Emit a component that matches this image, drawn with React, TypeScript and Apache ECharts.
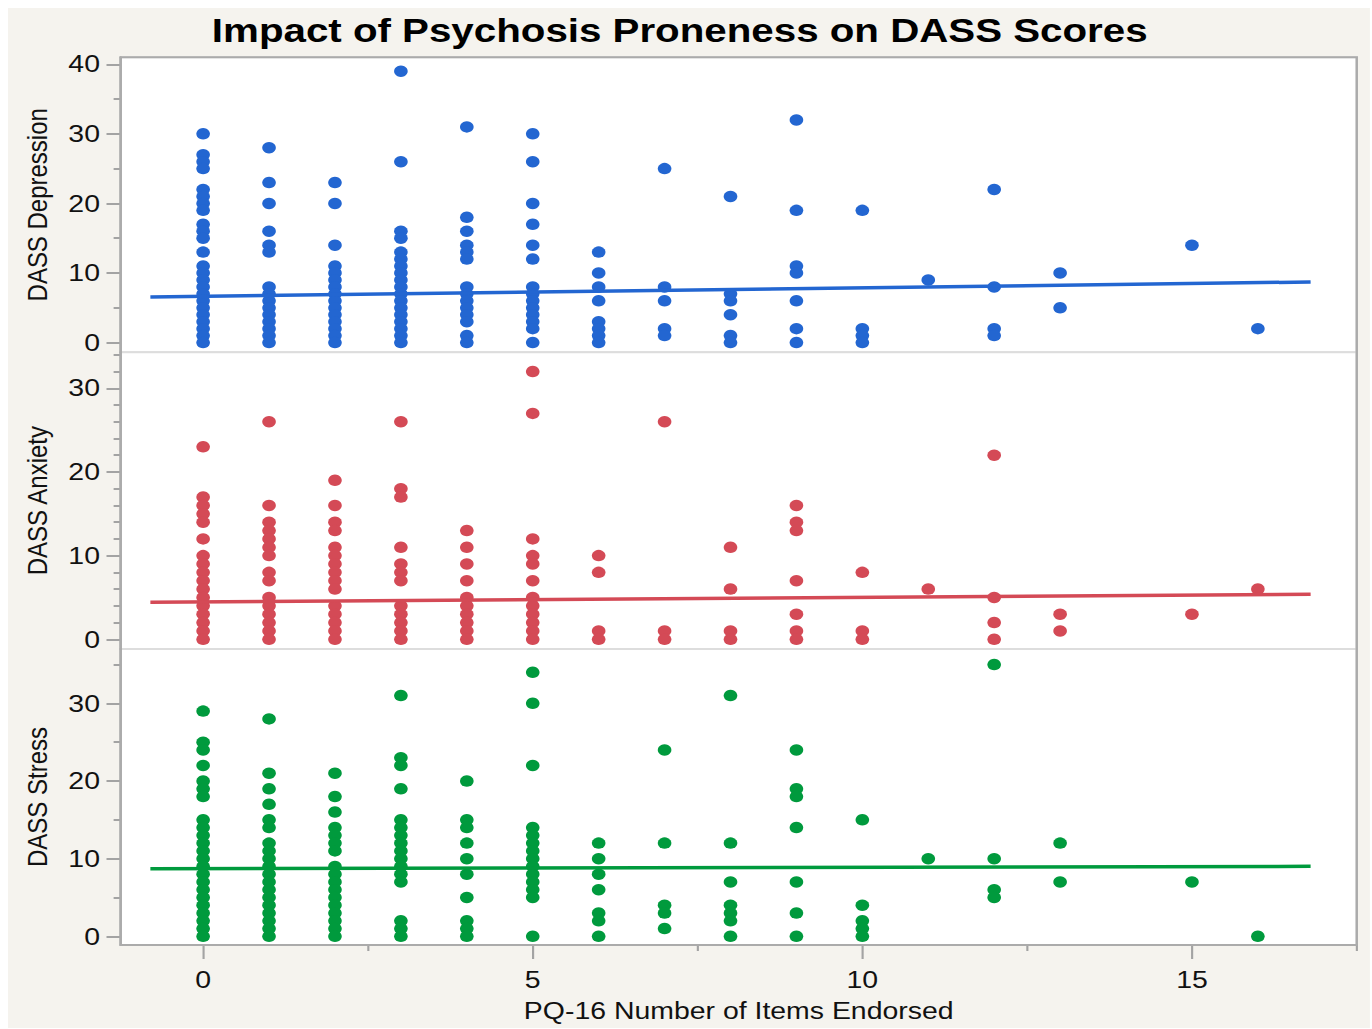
import React, { useEffect, useRef } from "react";
import * as echarts from "echarts";

const TITLE = "Impact of Psychosis Proneness on DASS Scores";
const X_NAME = "PQ-16 Number of Items Endorsed";
const Y_NAMES = ["DASS Depression", "DASS Anxiety", "DASS Stress"];

const xMajorTicks = [0, 5, 10, 15];
const xMinorTicks = [2.5, 7.5, 12.5, 17.5];
const depMajorTicks = [0, 10, 20, 30, 40];
const depMinorTicks = [5, 15, 25, 35];
const anxMajorTicks = [0, 10, 20, 30];
const anxMinorTicks = [2, 4, 6, 8, 12, 14, 16, 18, 22, 24, 26, 28, 32, 34];
const strMajorTicks = [0, 10, 20, 30];
const strMinorTicks = [5, 15, 25, 35];

// index of each row = number of PQ-16 items endorsed (0..16)
const depression: number[][] = [
  [30, 27, 26, 25, 22, 21, 20, 19, 17, 16, 15, 13, 11, 10, 9, 8, 7, 6, 5, 4, 3, 2, 1, 0],
  [28, 23, 20, 16, 14, 13, 8, 7, 6, 5, 4, 3, 2, 1, 0],
  [23, 20, 14, 11, 10, 9, 8, 7, 6, 5, 4, 3, 2, 1, 0],
  [39, 26, 16, 15, 13, 12, 11, 10, 9, 8, 7, 6, 5, 4, 3, 2, 1, 0],
  [31, 18, 16, 14, 13, 12, 8, 7, 6, 5, 4, 3, 1, 0],
  [30, 26, 20, 17, 14, 12, 8, 7, 6, 5, 4, 3, 2, 0],
  [13, 10, 8, 6, 3, 2, 1, 0],
  [25, 8, 6, 2, 1],
  [21, 7, 6, 4, 1, 0],
  [32, 19, 11, 10, 6, 2, 0],
  [19, 2, 1, 0],
  [9],
  [22, 8, 2, 1],
  [10, 5],
  [],
  [14],
  [2],
];

const anxiety: number[][] = [
  [23, 17, 16, 15, 14, 12, 10, 9, 8, 7, 6, 5, 4, 3, 2, 1, 0],
  [26, 16, 14, 13, 12, 11, 10, 8, 7, 5, 4, 3, 2, 1, 0],
  [19, 16, 14, 13, 11, 10, 9, 8, 7, 6, 4, 3, 2, 1, 0],
  [26, 18, 17, 11, 9, 8, 7, 4, 3, 2, 1, 0],
  [13, 11, 9, 7, 5, 4, 3, 2, 1, 0],
  [32, 27, 12, 10, 9, 7, 5, 4, 3, 2, 1, 0],
  [10, 8, 1, 0],
  [26, 1, 0],
  [11, 6, 1, 0],
  [16, 14, 13, 7, 3, 1, 0],
  [8, 1, 0],
  [6],
  [22, 5, 2, 0],
  [3, 1],
  [],
  [3],
  [6],
];

const stress: number[][] = [
  [29, 25, 24, 22, 20, 19, 18, 15, 14, 13, 12, 11, 10, 9, 8, 7, 6, 5, 4, 3, 2, 1, 0],
  [28, 21, 19, 17, 15, 14, 12, 11, 10, 9, 8, 7, 6, 5, 4, 3, 2, 1, 0],
  [21, 18, 16, 14, 13, 12, 11, 9, 8, 7, 6, 5, 4, 3, 2, 1, 0],
  [31, 23, 22, 19, 15, 14, 13, 12, 11, 10, 9, 8, 7, 2, 1, 0],
  [20, 15, 14, 12, 10, 8, 5, 2, 1, 0],
  [34, 30, 22, 14, 13, 12, 11, 10, 9, 8, 7, 6, 5, 0],
  [12, 10, 8, 6, 3, 2, 0],
  [24, 12, 4, 3, 1],
  [31, 12, 7, 4, 3, 2, 0],
  [24, 19, 18, 14, 7, 3, 0],
  [15, 4, 2, 1, 0],
  [10],
  [35, 10, 6, 5],
  [12, 7],
  [],
  [7],
  [0],
];

// fitted lines: endpoints
const fitX = [-0.8, 16.8];
const depFit = [6.56, 8.71];
const anxFit = [4.42, 5.38];
const strFit = [8.7, 9.01];

const COLORS = ["#2366D1", "#D44A56", "#009A3D"];
const FONT = "'Liberation Sans', Arial, Helvetica, sans-serif";

const W = 1149;
const H = 1020;
const SX = 1.1853;
const GL = 95.1;
const GR = 11.1;
const TOPS = [49.3, 344.3, 641];
const BOTTOM = 937;

function toPoints(cols: number[][]) {
  const pts: number[][] = [];
  cols.forEach((vals, i) => vals.forEach((v) => pts.push([i, v])));
  return pts;
}

export default function App() {
  const ref = useRef<HTMLDivElement>(null);
  useEffect(() => {
    if (!ref.current) return;
    const chart = echarts.init(ref.current, undefined, { renderer: "svg" });
    const ranges = [
      { min: -1.4, max: 41, major: depMajorTicks, minor: depMinorTicks },
      { min: -1.16, max: 34.3, major: anxMajorTicks, minor: anxMinorTicks },
      { min: -1.12, max: 37, major: strMajorTicks, minor: strMinorTicks },
    ];
    const heights = [TOPS[1] - TOPS[0], TOPS[2] - TOPS[1], BOTTOM - TOPS[2]];
    const grids = TOPS.map((t, i) => ({
      left: GL,
      right: GR,
      top: t,
      height: heights[i],
      show: true,
      backgroundColor: "#FFFFFF",
      borderColor: "#DDDDDD",
      borderWidth: 2,
    }));
    const tickStyle = { color: "#A3A3A3", width: 2 };
    const yAxes: any[] = [];
    ranges.forEach((r, i) => {
      yAxes.push({
        type: "value",
        gridIndex: i,
        position: "left",
        min: r.min,
        max: r.max,
        name: Y_NAMES[i],
        nameLocation: "middle",
        nameGap: 58.6,
        nameTextStyle: { fontSize: 24, color: "#111", fontFamily: FONT },
        axisLine: { show: true, onZero: false, lineStyle: { color: "#ABABAB", width: 2 } },
        axisTick: { show: true, customValues: r.major, length: 12, lineStyle: tickStyle },
        axisLabel: { show: true, customValues: r.major, margin: 17.5, fontSize: 24, color: "#111", fontFamily: FONT },
        splitLine: { show: false },
      });
      yAxes.push({
        type: "value",
        gridIndex: i,
        position: "left",
        min: r.min,
        max: r.max,
        axisLine: { show: false, onZero: false },
        axisTick: { show: true, customValues: r.minor, length: 6, lineStyle: tickStyle },
        axisLabel: { show: false },
        splitLine: { show: false },
      });
    });
    const xAxes: any[] = [
      { type: "value", gridIndex: 0, min: -1.25, max: 17.5, show: false, axisLine: { onZero: false }, splitLine: { show: false } },
      { type: "value", gridIndex: 1, min: -1.25, max: 17.5, show: false, axisLine: { onZero: false }, splitLine: { show: false } },
      {
        type: "value",
        gridIndex: 2,
        position: "bottom",
        min: -1.25,
        max: 17.5,
        name: X_NAME,
        nameLocation: "middle",
        nameGap: 54,
        nameTextStyle: { fontSize: 24, color: "#111", fontFamily: FONT },
        axisLine: { show: true, onZero: false, lineStyle: { color: "#ABABAB", width: 2 } },
        axisTick: { show: true, customValues: xMajorTicks, length: 14, lineStyle: { color: "#A3A3A3", width: 1.8 } },
        axisLabel: { show: true, customValues: xMajorTicks, margin: 23, fontSize: 24, color: "#111", fontFamily: FONT },
        splitLine: { show: false },
      },
      {
        type: "value",
        gridIndex: 2,
        position: "bottom",
        min: -1.25,
        max: 17.5,
        axisLine: { show: false, onZero: false },
        axisTick: { show: true, customValues: xMinorTicks, length: 6, lineStyle: { color: "#A3A3A3", width: 1.8 } },
        axisLabel: { show: false },
        splitLine: { show: false },
      },
    ];
    const datasets = [depression, anxiety, stress];
    const fits = [depFit, anxFit, strFit];
    const series: any[] = [];
    datasets.forEach((d, i) => {
      series.push({
        type: "scatter",
        xAxisIndex: i === 2 ? 2 : i,
        yAxisIndex: i * 2,
        data: toPoints(d),
        symbol: "circle",
        symbolSize: 11.5,
        itemStyle: { color: COLORS[i], opacity: 1 },
        z: 2,
      });
      series.push({
        type: "line",
        xAxisIndex: i === 2 ? 2 : i,
        yAxisIndex: i * 2,
        data: fitX.map((x, k) => [x, fits[i][k]]),
        showSymbol: false,
        symbol: "none",
        lineStyle: { color: COLORS[i], width: 3.5 },
        z: 3,
      });
    });
    chart.setOption({
      animation: false,
      backgroundColor: "#F5F3EE",
      title: {
        text: TITLE,
        left: 172,
        top: 5.5,
        padding: 0,
        textStyle: { fontSize: 34, fontWeight: "bold", color: "#000", fontFamily: FONT },
      },
      grid: grids,
      xAxis: xAxes,
      yAxis: yAxes,
      series,
      graphic: [
        {
          type: "rect",
          silent: true,
          z: 10,
          shape: { x: GL, y: TOPS[0], width: W - GL - GR, height: BOTTOM - TOPS[0] },
          style: { fill: "none", stroke: "#ABABAB", lineWidth: 2 },
        },
      ],
    });
    return () => chart.dispose();
  }, []);
  return (
    <div
      ref={ref}
      style={{
        position: "fixed",
        left: 8,
        top: 8,
        width: W,
        height: H,
        transform: `scaleX(${SX})`,
        transformOrigin: "0 0",
      }}
    />
  );
}
